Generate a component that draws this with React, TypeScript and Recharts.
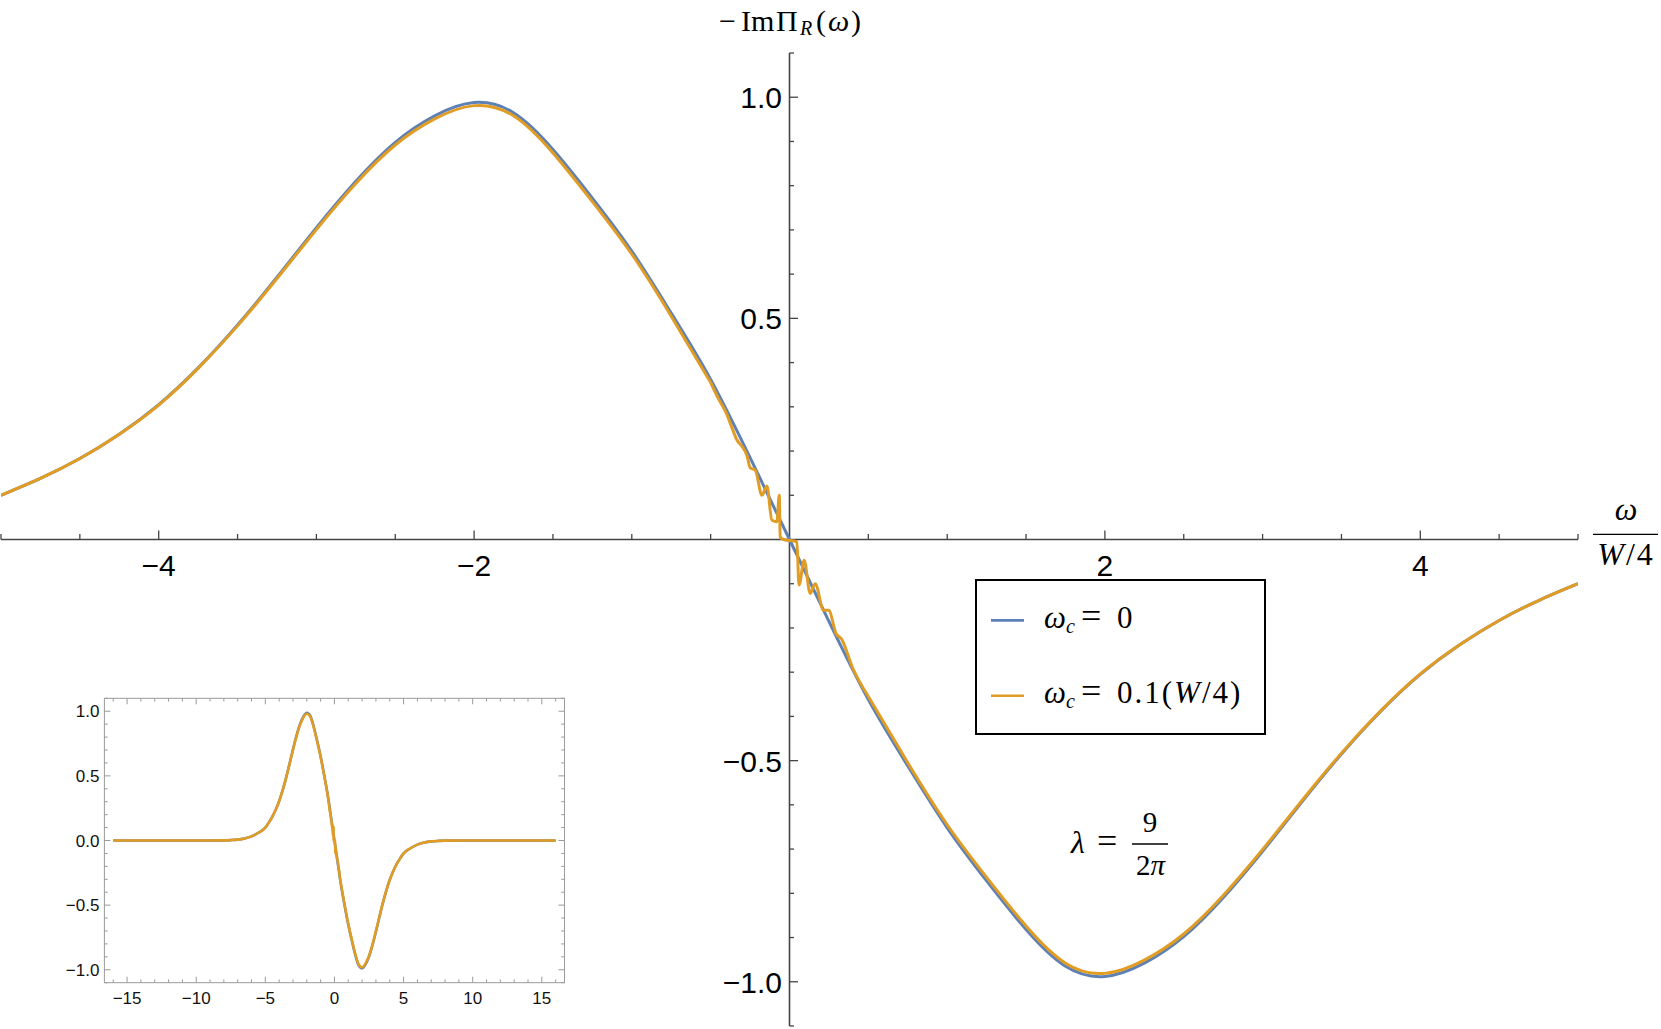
import React from 'react';
import { LineChart, Line, XAxis, YAxis, ReferenceLine, Legend } from 'recharts';

// main panel, omega in units of W/4
const X_MAIN = [-5, -4.75, -4.5, -4.25, -4, -3.75, -3.5, -3.25, -3, -2.75, -2.5, -2.25, -2, -1.75, -1.5, -1.25, -1, -0.75, -0.5, -0.25, 0, 0.25, 0.5, 0.75, 1, 1.25, 1.5, 1.75, 2, 2.25, 2.5, 2.75, 3, 3.25, 3.5, 3.75, 4, 4.25, 4.5, 4.75, 5];
const BLUE_Y = [0.1, 0.138, 0.183, 0.238, 0.305, 0.388, 0.485, 0.593, 0.705, 0.81, 0.898, 0.958, 0.988, 0.965, 0.882, 0.772, 0.652, 0.512, 0.362, 0.185, 0, -0.185, -0.362, -0.512, -0.652, -0.772, -0.882, -0.965, -0.988, -0.958, -0.898, -0.81, -0.705, -0.593, -0.485, -0.388, -0.305, -0.238, -0.183, -0.138, -0.1];

const ORANGE_X = [-5, -4.75, -4.5, -4.25, -4, -3.75, -3.5, -3.25, -3, -2.75, -2.5, -2.25, -2, -1.75, -1.5, -1.25, -1, -0.75,
  -0.5, -0.45, -0.4, -0.36, -0.335, -0.3, -0.27, -0.249, -0.217, -0.175, -0.143, -0.112, -0.08, -0.065, -0.059, -0.038,
  0.047, 0.06, 0.093, 0.131, 0.163, 0.216, 0.248, 0.296, 0.33, 0.4, 0.5,
  0.75, 1, 1.25, 1.5, 1.75, 2, 2.25, 2.5, 2.75, 3, 3.25, 3.5, 3.75, 4, 4.25, 4.5, 4.75, 5];
const ORANGE_Y = [0.1, 0.138, 0.183, 0.238, 0.304, 0.387, 0.483, 0.59, 0.701, 0.805, 0.892, 0.951, 0.981, 0.958, 0.874, 0.764, 0.645, 0.505,
  0.355, 0.318, 0.285, 0.248, 0.226, 0.21, 0.19, 0.162, 0.157, 0.1, 0.121, 0.044, 0.04, 0.1, 0.006, 0,
  -0.005, -0.103, -0.047, -0.122, -0.1, -0.16, -0.16, -0.213, -0.225, -0.29, -0.355,
  -0.505, -0.645, -0.764, -0.874, -0.958, -0.981, -0.951, -0.892, -0.805, -0.701, -0.59, -0.483, -0.387, -0.304, -0.238, -0.183, -0.138, -0.1];

// inset tails outside |omega| > 5
const INSET_LEFT_X = [-16, -12, -10, -9, -8, -7.5, -7, -6.5, -6, -5.5];
const INSET_LEFT_Y = [0, 0, 0, 0, 0.001, 0.003, 0.007, 0.016, 0.032, 0.06];
const INSET_RIGHT_X = [5.5, 6, 6.5, 7, 7.5, 8, 9, 10, 12, 16];
const INSET_RIGHT_Y = [-0.06, -0.032, -0.016, -0.007, -0.003, -0.001, 0, 0, 0, 0];

const SERIES_NAMES = ['ω_c = 0', 'ω_c = 0.1(W/4)'];

const MAIN_X_TICKS = [-5, -4.5, -4, -3.5, -3, -2.5, -2, -1.5, -1, -0.5, 0.5, 1, 1.5, 2, 2.5, 3, 3.5, 4, 4.5, 5];
const MAIN_X_LABELS = [-4, -2, 2, 4];
const MAIN_Y_TICKS = [-1.1, -1, -0.9, -0.8, -0.7, -0.6, -0.5, -0.4, -0.3, -0.2, -0.1, 0.1, 0.2, 0.3, 0.4, 0.5, 0.6, 0.7, 0.8, 0.9, 1, 1.1];
const MAIN_Y_LABELS = [-1, -0.5, 0.5, 1];

const INSET_X_TICKS = [-16, -15, -14, -13, -12, -11, -10, -9, -8, -7, -6, -5, -4, -3, -2, -1, 0, 1, 2, 3, 4, 5, 6, 7, 8, 9, 10, 11, 12, 13, 14, 15, 16];
const INSET_X_LABELS = [-15, -10, -5, 0, 5, 10, 15];
const INSET_Y_TICKS = [-1.1, -1, -0.9, -0.8, -0.7, -0.6, -0.5, -0.4, -0.3, -0.2, -0.1, 0, 0.1, 0.2, 0.3, 0.4, 0.5, 0.6, 0.7, 0.8, 0.9, 1, 1.1];
const INSET_Y_LABELS = [-1, -0.5, 0, 0.5, 1];

const W = 1661;
const H = 1029;
const MARGIN = { top: 53, right: 83, bottom: 2, left: 0 };
// 1px axis boxes on the left and bottom
const PLOT_W = W - MARGIN.left - MARGIN.right - 1;
const PLOT_H = H - MARGIN.top - MARGIN.bottom - 1;

const BLUE = '#5E81B5';
const ORANGE = '#E19C24';
const AXIS = '#444';
const FRAME = '#9a9a9a';
const TICK_FONT = '"Liberation Sans", Arial, Helvetica, sans-serif';
const MATH_FONT = '"Liberation Serif", "Times New Roman", serif';

const pts = (xs: number[], ys: number[]) => xs.map((x, i) => ({ x, y: ys[i] }));
const fmt = (v: number, d: number) => (v < 0 ? '\u2212' : '') + Math.abs(v).toFixed(d);

const blueData = pts(X_MAIN, BLUE_Y);
const orangeData = pts(ORANGE_X, ORANGE_Y);
// the ringing near the origin is drawn with monotone pieces, the smooth flanks with natural splines
const wigStart = ORANGE_X.indexOf(-0.5);
const wigEnd = ORANGE_X.indexOf(0.5);
const orangeLeft = orangeData.slice(0, wigStart + 1);
const orangeMid = orangeData.slice(wigStart, wigEnd + 1);
const orangeRight = orangeData.slice(wigEnd);

const insetBlue = pts([...INSET_LEFT_X, ...X_MAIN, ...INSET_RIGHT_X], [...INSET_LEFT_Y, ...BLUE_Y, ...INSET_RIGHT_Y]);
const insetOrange = pts([...INSET_LEFT_X, ...ORANGE_X, ...INSET_RIGHT_X], [...INSET_LEFT_Y, ...ORANGE_Y, ...INSET_RIGHT_Y]);

// axes cross at the origin, which is the middle of the plot (symmetric domains)
function MainXTick(props: any) {
  const { x, y, payload } = props;
  const v = payload.value;
  const y0 = y - PLOT_H / 2;
  const major = MAIN_X_LABELS.includes(v);
  return (
    <g>
      <line x1={x} x2={x} y1={y0} y2={y0 - (major ? 9 : 5.5)} stroke={AXIS} strokeWidth={1.3} />
      {major && (
        <text x={x} y={y0 + 36} textAnchor="middle" fontFamily={TICK_FONT} fontSize={30} fill="#000">
          {fmt(v, 0)}
        </text>
      )}
    </g>
  );
}

function MainYTick(props: any) {
  const { x, y, payload } = props;
  const v = payload.value;
  const x0 = x + PLOT_W / 2;
  const major = MAIN_Y_LABELS.includes(v);
  return (
    <g>
      <line x1={x0} x2={x0 + (major ? 8.5 : 4.5)} y1={y} y2={y} stroke={AXIS} strokeWidth={1.3} />
      {major && (
        <text x={x0 - 7.5} y={y + 11} textAnchor="end" fontFamily={TICK_FONT} fontSize={30} fill="#000">
          {fmt(v, 1)}
        </text>
      )}
    </g>
  );
}

function InsetTick(props: any) {
  const { x, y, payload, side } = props;
  const v = payload.value;
  if (side === 'bottom' || side === 'top') {
    const major = INSET_X_LABELS.includes(v);
    const len = (major ? 6 : 3.3) * (side === 'bottom' ? -1 : 1);
    return (
      <g>
        <line x1={x} x2={x} y1={y} y2={y + len} stroke={FRAME} strokeWidth={1} />
        {side === 'bottom' && major && (
          <text x={x} y={y + 21} textAnchor="middle" fontFamily={TICK_FONT} fontSize={17} fill="#111">
            {fmt(v, 0)}
          </text>
        )}
      </g>
    );
  }
  const major = INSET_Y_LABELS.includes(v);
  const len = (major ? 6 : 3.3) * (side === 'left' ? 1 : -1);
  return (
    <g>
      <line x1={x} x2={x + len} y1={y} y2={y} stroke={FRAME} strokeWidth={1} />
      {side === 'left' && major && (
        <text x={x - 5} y={y + 6} textAnchor="end" fontFamily={TICK_FONT} fontSize={17} fill="#111">
          {fmt(v, 1)}
        </text>
      )}
    </g>
  );
}

function MathName({ name, baseline }: { name: string; baseline: number }) {
  const [lhs, rhs = ''] = name.split(' = ');
  const [sym, sub = ''] = lhs.split('_');
  const rhsParts = rhs.split('W');
  return (
    <text x={69} y={baseline} fontFamily={MATH_FONT} fontSize={31} fill="#000">
      <tspan fontStyle="italic">{sym}</tspan>
      <tspan fontStyle="italic" fontSize={20} dy={5}>{sub}</tspan>
      <tspan x={106} dy={-5} fontSize={36}>=</tspan>
      <tspan x={142} letterSpacing={rhs.length > 2 ? 2 : 0}>
        {rhsParts.map((p, i) => (
          <React.Fragment key={i}>
            {i > 0 && <tspan fontStyle="italic">W</tspan>}
            {p}
          </React.Fragment>
        ))}
      </tspan>
    </text>
  );
}

function LegendBox(props: any) {
  const items = (props.payload || []).filter((it: any) => SERIES_NAMES.includes(String(it.value)));
  const rows = [41.4, 116.7];
  const bases = [49, 124];
  return (
    <svg width={291} height={156} style={{ display: 'block' }}>
      <rect x={1} y={1} width={289} height={154} fill="#fff" stroke="#000" strokeWidth={2} />
      {items.map((it: any, i: number) => (
        <g key={i}>
          <line x1={16} x2={49} y1={rows[i]} y2={rows[i]} stroke={it.color} strokeWidth={2.6} />
          <MathName name={String(it.value)} baseline={bases[i]} />
        </g>
      ))}
    </svg>
  );
}

function Inset() {
  return (
    <div style={{ position: 'absolute', left: 40, top: 690, width: 540, height: 330 }}>
      <LineChart width={540} height={330} margin={{ top: 7.3, right: 14.5, bottom: 36.3, left: 63.4 }}>
        <XAxis xAxisId="b" dataKey="x" type="number" domain={[-16.64, 16.64]} ticks={INSET_X_TICKS} interval={0} height={1}
          tickSize={0} tickMargin={0} tickLine={false} axisLine={{ stroke: FRAME }} allowDataOverflow
          tick={(p: any) => <InsetTick {...p} side="bottom" />} />
        <XAxis xAxisId="t" orientation="top" dataKey="x" type="number" domain={[-16.64, 16.64]} ticks={INSET_X_TICKS} interval={0} height={1}
          tickSize={0} tickMargin={0} tickLine={false} axisLine={{ stroke: FRAME }} allowDataOverflow
          tick={(p: any) => <InsetTick {...p} side="top" />} />
        <YAxis yAxisId="l" type="number" domain={[-1.1, 1.1]} ticks={INSET_Y_TICKS} interval={0} width={1}
          tickSize={0} tickMargin={0} tickLine={false} axisLine={{ stroke: FRAME }} allowDataOverflow
          tick={(p: any) => <InsetTick {...p} side="left" />} />
        <YAxis yAxisId="r" orientation="right" type="number" domain={[-1.1, 1.1]} ticks={INSET_Y_TICKS} interval={0} width={1}
          tickSize={0} tickMargin={0} tickLine={false} axisLine={{ stroke: FRAME }} allowDataOverflow
          tick={(p: any) => <InsetTick {...p} side="right" />} />
        <Line xAxisId="b" yAxisId="l" data={insetBlue} dataKey="y" type="monotone" stroke={BLUE} strokeWidth={2.6} dot={false} activeDot={false} isAnimationActive={false} />
        <Line xAxisId="b" yAxisId="l" data={insetOrange} dataKey="y" type="monotone" stroke={ORANGE} strokeWidth={2.6} dot={false} activeDot={false} isAnimationActive={false} />
      </LineChart>
    </div>
  );
}

function Labels() {
  return (
    <svg width={W} height={H} style={{ position: 'absolute', left: 0, top: 0, pointerEvents: 'none' }}>
      <g fontFamily={MATH_FONT} fill="#000">
        {/* vertical axis title */}
        <text y={31} fontSize={30}>
          <tspan x={719}>{'\u2212'}</tspan>
          <tspan x={741}>Im</tspan>
          <tspan x={776}>Π</tspan>
          <tspan x={800} dy={4} fontSize={20} fontStyle="italic">R</tspan>
          <tspan x={816} dy={-4}>(</tspan>
          <tspan x={828} fontStyle="italic">ω</tspan>
          <tspan x={851}>)</tspan>
        </text>
        {/* horizontal axis title */}
        <text x={1626} y={520} fontSize={32} fontStyle="italic" textAnchor="middle">ω</text>
        <line x1={1593} x2={1658} y1={534.3} y2={534.3} stroke="#000" strokeWidth={1.3} />
        <text x={1626} y={565} fontSize={32} textAnchor="middle" letterSpacing={2}>
          <tspan fontStyle="italic">W</tspan>/4
        </text>
        {/* coupling */}
        <text x={1071} y={853} fontSize={32} fontStyle="italic">λ</text>
        <text x={1097} y={853} fontSize={36}>=</text>
        <line x1={1132} x2={1168} y1={844} y2={844} stroke="#000" strokeWidth={1.3} />
        <text x={1150} y={831.5} fontSize={29} textAnchor="middle">9</text>
        <text x={1150.5} y={875} fontSize={29} textAnchor="middle">
          2<tspan fontStyle="italic">π</tspan>
        </text>
      </g>
    </svg>
  );
}

export default function App() {
  return (
    <div style={{ position: 'absolute', left: 0, top: 0, width: W, height: H, background: '#fff', overflow: 'hidden' }}>
      <LineChart width={W} height={H} margin={MARGIN}>
        <XAxis dataKey="x" type="number" domain={[-5, 5]} ticks={MAIN_X_TICKS} interval={0} height={1}
          tickSize={0} tickMargin={0} tickLine={false} axisLine={false} allowDataOverflow tick={MainXTick} />
        <YAxis type="number" domain={[-1.1, 1.1]} ticks={MAIN_Y_TICKS} interval={0} width={1}
          tickSize={0} tickMargin={0} tickLine={false} axisLine={false} allowDataOverflow tick={MainYTick} />
        <ReferenceLine y={0} stroke={AXIS} strokeWidth={1.6} />
        <ReferenceLine x={0} stroke={AXIS} strokeWidth={1.6} />
        <Line name={SERIES_NAMES[0]} data={blueData} dataKey="y" type="natural" stroke={BLUE} strokeWidth={3} dot={false} activeDot={false} isAnimationActive={false} />
        <Line name={SERIES_NAMES[1]} data={orangeLeft} dataKey="y" type="natural" stroke={ORANGE} strokeWidth={3} dot={false} activeDot={false} isAnimationActive={false} />
        <Line data={orangeMid} dataKey="y" type="monotone" legendType="none" stroke={ORANGE} strokeWidth={3} dot={false} activeDot={false} isAnimationActive={false} />
        <Line data={orangeRight} dataKey="y" type="natural" legendType="none" stroke={ORANGE} strokeWidth={3} dot={false} activeDot={false} isAnimationActive={false} />
        <Legend layout="vertical" align="center" verticalAlign="middle" content={(p: any) => <LegendBox {...p} />}
          wrapperStyle={{ left: 975, top: 579, width: 291, height: 156 }} />
      </LineChart>
      <Inset />
      <Labels />
    </div>
  );
}
